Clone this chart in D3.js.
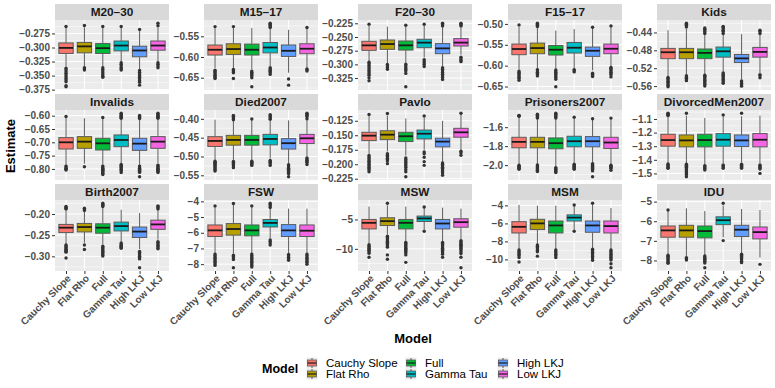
<!DOCTYPE html>
<html>
<head>
<meta charset="utf-8">
<style>
body { margin: 0; background: #fff; }
svg { font-family: "Liberation Sans", Arial, sans-serif; }
</style>
<script src="https://d3js.org/d3.v7.min.js"></script>
</head>
<body>

<svg id="chart" width="775" height="388"></svg>

<script>

// Models on the x axis (also the fill legend)
var models = ["Cauchy Slope", "Flat Rho", "Full", "Gamma Tau", "High LKJ", "Low LKJ"];
var colors = ["#F8766D", "#B79F00", "#00BA38", "#00BFC4", "#619CFF", "#F564E3"];

// Facet names, in facet_wrap order
var panels = ["M20–30", "M15–17", "F20–30", "F15–17", "Kids",
              "Invalids", "Died2007", "Pavlo", "Prisoners2007", "DivorcedMen2007",
              "Birth2007", "FSW", "MSW", "MSM", "IDU"];

// y breaks per facet and number of decimals on the labels
var tickValues = [
    [-0.375, -0.35, -0.325, -0.3, -0.275],
    [-0.65, -0.6, -0.55],
    [-0.325, -0.3, -0.275, -0.25, -0.225],
    [-0.65, -0.6, -0.55, -0.5],
    [-0.56, -0.52, -0.48, -0.44],
    [-0.8, -0.75, -0.7, -0.65, -0.6],
    [-0.55, -0.5, -0.45, -0.4],
    [-0.225, -0.2, -0.175, -0.15, -0.125],
    [-2.0, -1.8, -1.6],
    [-1.5, -1.4, -1.3, -1.2, -1.1],
    [-0.3, -0.25, -0.2],
    [-8, -7, -6, -5, -4],
    [-10, -5],
    [-10, -8, -6, -4],
    [-8, -7, -6, -5]
];
var tickDigits = [3, 2, 3, 2, 2, 2, 2, 3, 1, 1, 2, 0, 0, 0, 0];

// Box statistics per facet, one row per model: [lower whisker, Q1, median, Q3, upper whisker]
var boxStats = [
    [[-0.334, -0.3106, -0.3007, -0.2919, -0.265], [-0.334, -0.3095, -0.298, -0.291, -0.264], [-0.334, -0.3107, -0.3012, -0.293, -0.265],
     [-0.325, -0.306, -0.2965, -0.2884, -0.265], [-0.340, -0.3165, -0.3053, -0.2977, -0.270], [-0.325, -0.3048, -0.2965, -0.2884, -0.2645]],
    [[-0.6265, -0.5952, -0.5825, -0.5711, -0.530], [-0.6265, -0.5938, -0.5808, -0.568, -0.530], [-0.630, -0.5952, -0.5825, -0.5688, -0.530],
     [-0.622, -0.590, -0.577, -0.565, -0.532], [-0.638, -0.5986, -0.585, -0.571, -0.5344], [-0.626, -0.592, -0.580, -0.568, -0.532]],
    [[-0.2941, -0.2744, -0.2653, -0.2579, -0.230], [-0.298, -0.2726, -0.2629, -0.2555, -0.231], [-0.297, -0.2739, -0.2653, -0.2573, -0.2305],
     [-0.2875, -0.2695, -0.2603, -0.2542, -0.229], [-0.303, -0.2805, -0.2708, -0.2621, -0.232], [-0.2823, -0.2665, -0.2603, -0.253, -0.232]],
    [[-0.6095, -0.5738, -0.5602, -0.5483, -0.506], [-0.6071, -0.5714, -0.5579, -0.546, -0.508], [-0.6071, -0.5746, -0.5619, -0.5517, -0.516],
     [-0.6071, -0.5698, -0.5571, -0.5445, -0.5126], [-0.6112, -0.5778, -0.5643, -0.5556, -0.510], [-0.6017, -0.5714, -0.5595, -0.5483, -0.507]],
    [[-0.5377, -0.4987, -0.4843, -0.4757, -0.4351], [-0.533, -0.4987, -0.4843, -0.4757, -0.432], [-0.533, -0.4987, -0.4857, -0.477, -0.445],
     [-0.528, -0.4952, -0.4822, -0.4727, -0.445], [-0.545, -0.5073, -0.498, -0.4893, -0.4438], [-0.531, -0.4952, -0.4835, -0.4735, -0.445]],
    [[-0.7855, -0.7252, -0.70, -0.6824, -0.606], [-0.780, -0.7226, -0.6975, -0.6786, -0.6094], [-0.785, -0.7289, -0.7038, -0.6849, -0.609],
     [-0.7792, -0.7164, -0.6912, -0.6723, -0.612], [-0.785, -0.7302, -0.705, -0.6849, -0.614], [-0.7792, -0.7226, -0.6975, -0.6786, -0.614]],
    [[-0.5089, -0.4734, -0.4587, -0.4474, -0.4023], [-0.509, -0.4699, -0.4561, -0.4439, -0.405], [-0.509, -0.4699, -0.4561, -0.4439, -0.4006],
     [-0.5055, -0.4691, -0.4535, -0.4413, -0.405], [-0.5193, -0.4803, -0.4647, -0.4526, -0.4041], [-0.5003, -0.4656, -0.4517, -0.4413, -0.402]],
    [[-0.1819, -0.1592, -0.1507, -0.1449, -0.117], [-0.178, -0.1575, -0.149, -0.1422, -0.116], [-0.185, -0.1609, -0.1517, -0.1449, -0.121],
     [-0.175, -0.1563, -0.1473, -0.141, -0.119], [-0.196, -0.170, -0.1609, -0.1551, -0.1251], [-0.175, -0.1534, -0.1449, -0.138, -0.114]],
    [[-1.9913, -1.8174, -1.7548, -1.7061, -1.49], [-1.99, -1.8174, -1.7548, -1.7061, -1.51], [-2.01, -1.8278, -1.7687, -1.713, -1.51],
     [-1.975, -1.807, -1.7478, -1.6957, -1.50], [-1.975, -1.807, -1.7478, -1.6991, -1.5113], [-1.99, -1.8243, -1.7617, -1.7061, -1.5043]],
    [[-1.425, -1.30, -1.255, -1.2125, -1.08], [-1.425, -1.305, -1.2575, -1.2175, -1.075], [-1.435, -1.305, -1.255, -1.2125, -1.0925],
     [-1.425, -1.30, -1.2525, -1.2075, -1.08], [-1.42, -1.3025, -1.2575, -1.2175, -1.08], [-1.425, -1.305, -1.2525, -1.2075, -1.075]],
    [[-0.2708, -0.2438, -0.2323, -0.2246, -0.192], [-0.268, -0.2423, -0.2308, -0.2223, -0.195], [-0.272, -0.2454, -0.2323, -0.2231, -0.186],
     [-0.265, -0.240, -0.2285, -0.2192, -0.19], [-0.283, -0.2554, -0.2415, -0.2308, -0.1977], [-0.2608, -0.2362, -0.2246, -0.2146, -0.192]],
    [[-7.319, -6.238, -5.849, -5.503, -4.33], [-7.32, -6.151, -5.762, -5.416, -4.2], [-7.32, -6.195, -5.849, -5.503, -4.33],
     [-6.346, -5.632, -5.373, -5.157, -4.42], [-7.32, -6.238, -5.849, -5.481, -4.465], [-7.32, -6.238, -5.87, -5.503, -4.465]],
    [[-9.138, -6.609, -5.575, -5.0, -2.816], [-7.586, -6.034, -5.287, -4.713, -2.6], [-8.736, -6.609, -5.575, -5.0, -2.816],
     [-6.724, -5.345, -4.828, -4.425, -3.0], [-8.736, -6.609, -5.69, -5.0, -2.989], [-8.448, -6.322, -5.46, -4.885, -3.16]],
    [[-8.88, -7.063, -6.38, -5.81, -3.95], [-8.28, -6.683, -6.0, -5.545, -4.03], [-8.88, -7.063, -6.228, -5.734, -4.03],
     [-6.683, -5.734, -5.355, -5.05, -4.1], [-8.8, -6.987, -6.228, -5.734, -3.95], [-8.88, -7.063, -6.30, -5.734, -4.29]],
    [[-7.681, -6.815, -6.468, -6.243, -5.48], [-7.8, -6.815, -6.468, -6.208, -5.341], [-7.75, -6.849, -6.503, -6.243, -5.48],
     [-6.815, -6.173, -5.948, -5.775, -5.2], [-7.65, -6.78, -6.433, -6.208, -5.376], [-7.854, -6.901, -6.555, -6.295, -5.428]]
];

// Outlying draws per facet and model
var outliers = [
    [[-0.2625, -0.337, -0.340, -0.343, -0.346, -0.349, -0.352, -0.355, -0.358, -0.361, -0.368, -0.370],
     [-0.2607, -0.336, -0.338, -0.340],
     [-0.2625, -0.336, -0.339, -0.342, -0.345, -0.348, -0.351, -0.353],
     [-0.2625, -0.327, -0.330, -0.333, -0.336, -0.338, -0.340],
     [-0.2678, -0.341, -0.344, -0.347, -0.350, -0.353, -0.356, -0.359, -0.362, -0.367],
     [-0.2567, -0.2613, -0.327, -0.330, -0.333, -0.336]],
    [[-0.5265, -0.632, -0.635, -0.638, -0.641, -0.644, -0.647, -0.650, -0.652],
     [-0.5265, -0.630, -0.633, -0.636, -0.638, -0.652],
     [-0.634, -0.637, -0.640, -0.643, -0.646, -0.650, -0.672],
     [-0.5183, -0.521, -0.524, -0.527, -0.529, -0.626, -0.629, -0.632, -0.635, -0.638, -0.642],
     [-0.653, -0.668],
     [-0.5288, -0.629, -0.631, -0.634]],
    [[-0.2267, -0.296, -0.299, -0.302, -0.305, -0.308, -0.311, -0.314, -0.317, -0.320, -0.3246, -0.330],
     [-0.3001, -0.303, -0.306, -0.309],
     [-0.2285, -0.2997, -0.303, -0.306, -0.309, -0.312, -0.3165, -0.341],
     [-0.2267, -0.2916, -0.294, -0.297, -0.300, -0.3039],
     [-0.2248, -0.2265, -0.2282, -0.2298, -0.3062, -0.309, -0.312, -0.315, -0.318, -0.321, -0.324, -0.3278],
     [-0.2248, -0.2265, -0.2282, -0.2298, -0.287, -0.290, -0.293, -0.295]],
    [[-0.5024, -0.613, -0.616, -0.619, -0.622, -0.625, -0.628, -0.631, -0.635],
     [-0.4983, -0.5010, -0.5037, -0.5064, -0.6095, -0.613, -0.616, -0.619, -0.622, -0.6246],
     [-0.6103, -0.613, -0.616, -0.619, -0.622, -0.625, -0.628, -0.6325, -0.6507],
     [-0.6095, -0.612, -0.615],
     [-0.5079, -0.6183, -0.621, -0.624, -0.626],
     [-0.5048, -0.6045, -0.607, -0.610, -0.613, -0.616, -0.619, -0.622, -0.627]],
    [[-0.5407, -0.543, -0.546, -0.549, -0.552, -0.555, -0.558, -0.5616],
     [-0.4193, -0.4215, -0.424, -0.428, -0.537, -0.540, -0.543, -0.546, -0.5478],
     [-0.430, -0.433, -0.436, -0.439, -0.4423, -0.5355, -0.538, -0.541, -0.544, -0.547, -0.550, -0.553, -0.556, -0.560],
     [-0.4264, -0.429, -0.432, -0.435, -0.438, -0.4423, -0.5305, -0.533, -0.536, -0.539, -0.542, -0.545, -0.548, -0.551, -0.5536],
     [-0.5485, -0.551, -0.554, -0.557, -0.5601],
     [-0.4351, -0.438, -0.4423, -0.5343, -0.537, -0.5415]],
    [[-0.6031, -0.7893, -0.793, -0.797, -0.801, -0.8044],
     [-0.7918],
     [-0.6069, -0.7893, -0.793, -0.797, -0.801, -0.805, -0.809, -0.813, -0.817, -0.8208],
     [-0.5906, -0.594, -0.598, -0.602, -0.606, -0.6094, -0.783, -0.787, -0.791, -0.795, -0.799, -0.803, -0.807, -0.8132],
     [-0.5994, -0.603, -0.607, -0.611, -0.7893, -0.793, -0.797, -0.801, -0.805, -0.809, -0.813, -0.8296],
     [-0.5906, -0.594, -0.598, -0.602, -0.606, -0.610, -0.7855, -0.789, -0.793, -0.797, -0.801, -0.805, -0.809, -0.8132]],
    [[-0.5124, -0.515, -0.518, -0.521, -0.524, -0.527, -0.530, -0.533, -0.536, -0.5384],
     [-0.3911, -0.394, -0.397, -0.400, -0.4023, -0.5133, -0.516, -0.519, -0.522, -0.525, -0.5297],
     [-0.4006, -0.5124, -0.515, -0.518, -0.521, -0.5237],
     [-0.3893, -0.392, -0.395, -0.398, -0.401, -0.5107, -0.513, -0.516, -0.519, -0.5237],
     [-0.5219, -0.525, -0.528, -0.531, -0.534, -0.537, -0.540, -0.543, -0.546, -0.554],
     [-0.385, -0.388, -0.391, -0.394, -0.3997, -0.5037, -0.507, -0.510, -0.513, -0.516, -0.5211]],
    [[-0.1142, -0.1848, -0.1875, -0.190, -0.1925, -0.195, -0.1975, -0.200, -0.2025, -0.205, -0.2075, -0.210, -0.2131],
     [-0.1125, -0.1819, -0.1845, -0.187, -0.1895, -0.192, -0.1945, -0.199],
     [-0.1893, -0.192, -0.1945, -0.197, -0.1995, -0.202, -0.205, -0.209, -0.213, -0.2217],
     [-0.1166, -0.179, -0.182, -0.188, -0.1955, -0.2019],
     [-0.1978, -0.200, -0.2025, -0.205, -0.2075, -0.210, -0.2125, -0.215, -0.2189],
     [-0.1119, -0.1776, -0.180, -0.1845]],
    [[-1.4765, -1.48, -1.485, -2.0017, -2.012, -2.022, -2.033, -2.0435],
     [-1.4626, -1.473, -1.483, -1.494, -1.5043, -1.9983, -2.008, -2.018, -2.028, -2.038, -2.048, -2.058, -2.0678],
     [-1.4522, -1.462, -1.472, -1.482, -1.493, -1.5043, -2.0261, -2.036, -2.046, -2.057, -2.067, -2.0783],
     [-1.4939, -1.9913, -2.002, -2.012, -2.022, -2.033, -2.0435],
     [-1.5113, -1.9843, -1.995, -2.005, -2.015, -2.025, -2.035, -2.045, -2.0609, -2.1235],
     [-1.5043, -2.0017, -2.012, -2.022, -2.033, -2.0539]],
    [[-1.0575, -1.062, -1.067, -1.071, -1.075, -1.43, -1.437, -1.444, -1.451, -1.458, -1.4625],
     [-1.0575, -1.4325, -1.44, -1.447, -1.454, -1.461, -1.468, -1.475, -1.482, -1.49, -1.5, -1.51, -1.525],
     [-1.4425, -1.45, -1.458, -1.466, -1.475],
     [-1.07, -1.4375, -1.445, -1.452, -1.4625],
     [-1.0575, -1.4325, -1.44, -1.447, -1.455, -1.4625],
     [-1.4375, -1.445, -1.452, -1.46, -1.4675, -1.50]],
    [[-0.1823, -0.1845, -0.1865, -0.1885, -0.2731, -0.2755, -0.278, -0.2805, -0.283, -0.2855, -0.288, -0.29, -0.3038],
     [-0.1862, -0.1885, -0.1915, -0.2731, -0.2838],
     [-0.1746, -0.177, -0.1795, -0.1823, -0.2762, -0.279, -0.282, -0.285, -0.288, -0.291, -0.294, -0.297, -0.2992],
     [-0.2685, -0.271, -0.2735, -0.276, -0.2785, -0.2808],
     [-0.2885, -0.291, -0.294, -0.297, -0.300, -0.303, -0.306, -0.3269],
     [-0.1808, -0.183, -0.1855, -0.1885, -0.2654, -0.268, -0.271, -0.274, -0.277, -0.28, -0.2823]],
    [[-4.29, -7.36, -7.45, -7.54, -7.63, -7.72, -7.81, -7.90, -7.99, -8.08],
     [-4.14, -7.43, -7.52, -7.61, -7.71, -8.23],
     [-4.29, -7.36, -7.45, -7.54, -7.63, -7.72, -7.81, -7.90, -7.99, -8.08, -8.18],
     [-4.12, -4.21, -4.30, -4.40, -6.454, -6.56, -6.66, -6.778],
     [-7.384, -7.47, -7.56, -7.65, -7.75],
     [-7.36, -7.45, -7.54, -7.63, -7.72, -7.81, -7.90, -8.01]],
    [[-9.31, -9.5, -9.7, -9.9, -10.1, -10.3, -10.5, -10.75, -11.44],
     [-2.241, -7.87, -8.1, -8.3, -8.5, -8.7, -8.9, -9.1, -9.3, -9.5, -9.71, -11.03, -11.78],
     [-8.91, -9.1, -9.3, -9.5, -9.7, -9.9, -10.1, -10.3, -10.5, -10.7, -11.03, -12.3],
     [-2.874, -7.011],
     [-8.91, -9.1, -9.3, -9.5, -9.7, -9.9, -10.1, -10.3, -10.5, -10.7, -10.9, -11.44],
     [-8.62, -8.8, -9.0, -9.2, -9.4, -9.6, -9.8, -10.0, -10.2, -10.5, -10.8, -11.44, -13.22]],
    [[-8.96, -9.12, -9.28, -9.44, -9.6, -9.80, -10.29],
     [-8.39, -8.55, -8.7, -8.85, -9.0, -9.15, -9.64],
     [-8.96, -9.12, -9.28, -9.44, -9.6, -9.80],
     [-3.95, -6.873],
     [-3.76, -8.88, -9.04, -9.2, -9.36, -9.52, -9.68, -9.84, -10.1],
     [-8.96, -9.12, -9.28, -9.44, -9.6, -9.76, -9.92, -10.08, -10.48, -10.93]],
    [[-5.428, -7.733, -7.79, -7.85, -7.91, -7.97, -8.03, -8.09, -8.149],
     [-7.854, -7.91, -7.976],
     [-7.768, -7.83, -7.89, -7.95, -8.01, -8.07, -8.13, -8.374],
     [-5.082, -6.988],
     [-7.681, -7.74, -7.8, -7.86, -7.92, -7.98, -8.05, -8.114],
     [-8.20]]
];

// ---- layout (facet grid) ----
var colLeft = [55, 204, 358, 508, 657];
var panelW = 114;
var rowTop = [4, 94, 184];
var stripH = 16;
var rowBottom = [90, 180, 271];
var boxFrac = 0.78;

var svg = d3.select("#chart");

svg.append("rect")
    .attr("width", 775)
    .attr("height", 388)
    .attr("fill", "white");

panels.forEach(function(name, i) {
    var col = i % 5;
    var row = Math.floor(i / 5);
    var x0 = colLeft[col];
    var x1 = x0 + panelW;
    var yTop = rowTop[row] + stripH;
    var yBot = rowBottom[row];

    // free y scale: data range plus 5% on each side, like ggplot
    var all = d3.merge(boxStats[i]).concat(d3.merge(outliers[i]));
    var ext = d3.extent(all);
    var pad = (ext[1] - ext[0]) * 0.05;
    var y = d3.scaleLinear()
        .domain([ext[0] - pad, ext[1] + pad])
        .range([yBot, yTop]);

    var x = d3.scalePoint()
        .domain(models)
        .range([x0, x1])
        .padding(0.6);
    var bw = x.step() * boxFrac;

    var g = svg.append("g").attr("class", "panel");

    // panel background
    g.append("rect")
        .attr("x", x0)
        .attr("y", yTop)
        .attr("width", panelW)
        .attr("height", yBot - yTop)
        .attr("fill", "#EBEBEB");

    // minor grid halfway between breaks
    var ticks = tickValues[i];
    var step = ticks[1] - ticks[0];
    var minor = [ticks[0] - step / 2].concat(ticks.map(function(t) { return t + step / 2; }));
    var dom = y.domain();
    minor = minor.filter(function(v) { return v >= dom[0] && v <= dom[1]; });

    g.selectAll(".minor")
        .data(minor)
        .enter().append("line")
        .attr("x1", x0).attr("x2", x1)
        .attr("y1", function(d) { return y(d); })
        .attr("y2", function(d) { return y(d); })
        .attr("stroke", "white")
        .attr("stroke-width", 0.5);

    g.selectAll(".major")
        .data(ticks)
        .enter().append("line")
        .attr("x1", x0).attr("x2", x1)
        .attr("y1", function(d) { return y(d); })
        .attr("y2", function(d) { return y(d); })
        .attr("stroke", "white")
        .attr("stroke-width", 1);

    g.selectAll(".vgrid")
        .data(models)
        .enter().append("line")
        .attr("x1", function(d) { return x(d); })
        .attr("x2", function(d) { return x(d); })
        .attr("y1", yTop).attr("y2", yBot)
        .attr("stroke", "white")
        .attr("stroke-width", 1);

    // strip
    g.append("rect")
        .attr("x", x0)
        .attr("y", rowTop[row])
        .attr("width", panelW)
        .attr("height", stripH)
        .attr("fill", "#D9D9D9");

    g.append("text")
        .attr("x", x0 + panelW / 2)
        .attr("y", rowTop[row] + stripH / 2)
        .attr("dy", "0.36em")
        .attr("text-anchor", "middle")
        .style("font-size", "11.8px")
        .style("font-weight", "bold")
        .style("fill", "#1A1A1A")
        .text(name);

    // boxes
    var box = g.selectAll(".box")
        .data(models)
        .enter().append("g")
        .attr("class", "box");

    box.append("line")
        .attr("x1", function(d) { return x(d); })
        .attr("x2", function(d) { return x(d); })
        .attr("y1", function(d, k) { return y(boxStats[i][k][0]); })
        .attr("y2", function(d, k) { return y(boxStats[i][k][1]); })
        .attr("stroke", "#333333")
        .attr("stroke-width", 0.8);

    box.append("line")
        .attr("x1", function(d) { return x(d); })
        .attr("x2", function(d) { return x(d); })
        .attr("y1", function(d, k) { return y(boxStats[i][k][3]); })
        .attr("y2", function(d, k) { return y(boxStats[i][k][4]); })
        .attr("stroke", "#333333")
        .attr("stroke-width", 0.8);

    box.selectAll("circle")
        .data(function(d, k) { return outliers[i][k].map(function(v) { return { m: d, v: v }; }); })
        .enter().append("circle")
        .attr("cx", function(o) { return x(o.m); })
        .attr("cy", function(o) { return y(o.v); })
        .attr("r", 1.7)
        .attr("fill", "#333333");

    box.append("rect")
        .attr("x", function(d) { return x(d) - bw / 2; })
        .attr("y", function(d, k) { return y(boxStats[i][k][3]); })
        .attr("width", bw)
        .attr("height", function(d, k) { return y(boxStats[i][k][1]) - y(boxStats[i][k][3]); })
        .attr("fill", function(d, k) { return colors[k]; })
        .attr("stroke", "#5A5A5A")
        .attr("stroke-width", 1);

    box.append("line")
        .attr("x1", function(d) { return x(d) - bw / 2; })
        .attr("x2", function(d) { return x(d) + bw / 2; })
        .attr("y1", function(d, k) { return y(boxStats[i][k][2]); })
        .attr("y2", function(d, k) { return y(boxStats[i][k][2]); })
        .attr("stroke", "#1A1A1A")
        .attr("stroke-width", 1.8);

    // y axis
    var yAxis = svg.append("g")
        .attr("transform", "translate(" + x0 + ",0)")
        .call(d3.axisLeft(y)
            .tickValues(ticks)
            .tickFormat(d3.format("." + tickDigits[i] + "f"))
            .tickSize(3)
            .tickPadding(2));
    yAxis.select(".domain").remove();
    yAxis.selectAll("line").attr("stroke", "#333333");
    yAxis.selectAll("text")
        .style("font-family", "'Liberation Sans', Arial, sans-serif")
        .style("font-size", "10px")
        .style("font-weight", "bold")
        .style("fill", "#4D4D4D");

    // x axis only under the bottom row
    if (row === 2) {
        var xAxis = svg.append("g")
            .attr("transform", "translate(0," + yBot + ")")
            .call(d3.axisBottom(x).tickSize(3));
        xAxis.select(".domain").remove();
        xAxis.selectAll("line").attr("stroke", "#333333");
        xAxis.selectAll("text")
            .attr("x", 0)
            .attr("y", 0)
            .attr("dy", "0.71em")
            .attr("transform", "translate(0,3) rotate(-45)")
            .style("text-anchor", "end")
            .style("font-family", "'Liberation Sans', Arial, sans-serif")
            .style("font-size", "10px")
            .style("font-weight", "bold")
            .style("fill", "#4D4D4D");
    }
});

// axis titles
svg.append("text")
    .attr("transform", "translate(15,146) rotate(-90)")
    .attr("text-anchor", "middle")
    .style("font-size", "13px")
    .style("font-weight", "bold")
    .text("Estimate");

svg.append("text")
    .attr("x", 413)
    .attr("y", 343)
    .attr("text-anchor", "middle")
    .style("font-size", "13px")
    .style("font-weight", "bold")
    .text("Model");

// legend, filled column by column
var legendKeyX = [312, 411, 503];
var legendRowY = [363, 374];

var legend = svg.append("g").attr("class", "legend");

legend.append("text")
    .attr("x", 262)
    .attr("y", 373)
    .style("font-size", "12.5px")
    .style("font-weight", "bold")
    .text("Model");

var item = legend.selectAll(".item")
    .data(models)
    .enter().append("g")
    .attr("class", "item")
    .attr("transform", function(d, k) {
        return "translate(" + legendKeyX[Math.floor(k / 2)] + "," + legendRowY[k % 2] + ")";
    });

item.append("rect")
    .attr("x", -5.5).attr("y", -5.5)
    .attr("width", 11).attr("height", 11)
    .attr("fill", "#EBEBEB");

item.append("line")
    .attr("x1", 0).attr("x2", 0)
    .attr("y1", -5).attr("y2", 5)
    .attr("stroke", "#333333")
    .attr("stroke-width", 0.8);

item.append("rect")
    .attr("x", -4.5).attr("y", -3)
    .attr("width", 9).attr("height", 6)
    .attr("fill", function(d, k) { return colors[k]; })
    .attr("stroke", "#5A5A5A")
    .attr("stroke-width", 0.8);

item.append("line")
    .attr("x1", -4.5).attr("x2", 4.5)
    .attr("y1", 0).attr("y2", 0)
    .attr("stroke", "#1A1A1A")
    .attr("stroke-width", 1.2);

item.append("text")
    .attr("x", 14)
    .attr("y", 4)
    .style("font-size", "11.5px")
    .text(function(d) { return d; });

</script>

</body>

</html>
